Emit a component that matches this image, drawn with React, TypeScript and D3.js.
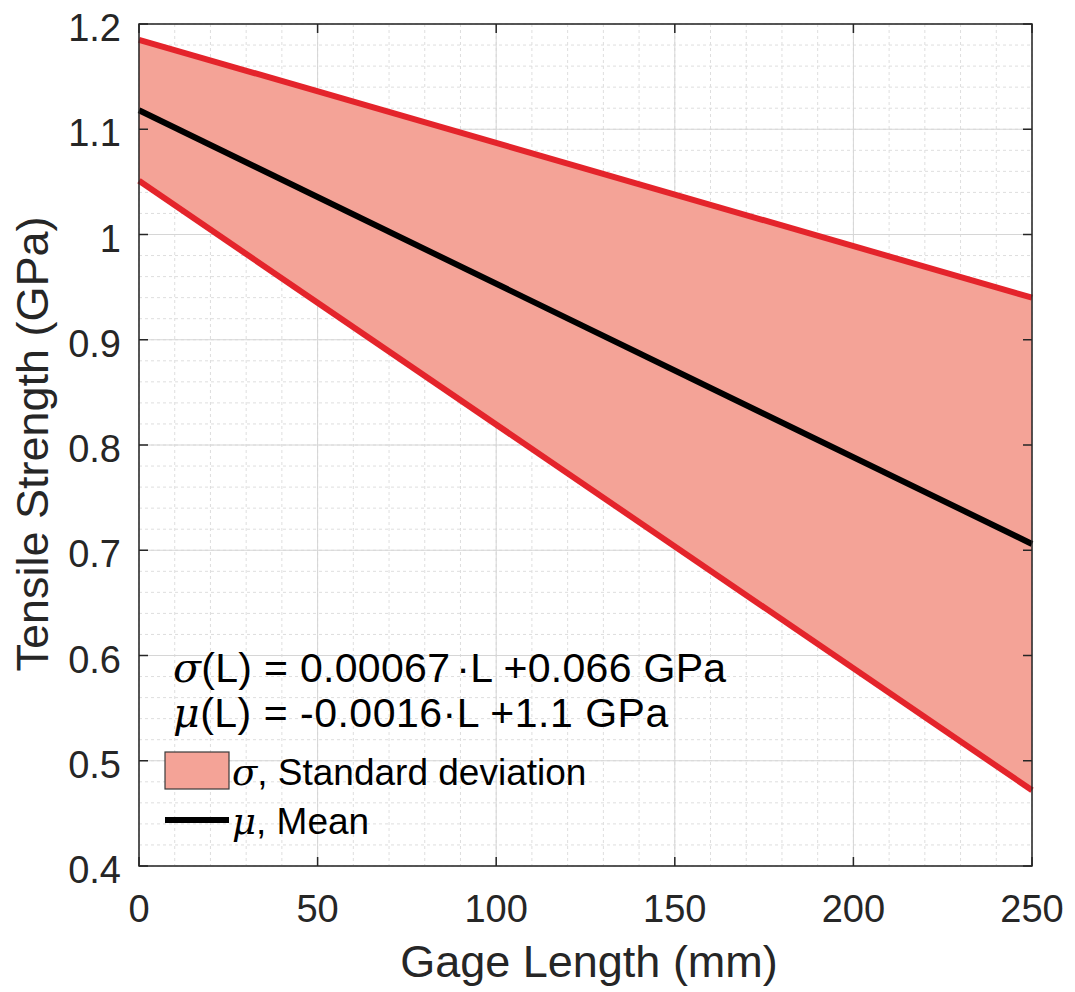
import React from "react";
import * as d3 from "d3";

const gageLength = [0, 250];
const meanStrength = [1.118, 0.706];
const upperStrength = [1.185, 0.94];
const lowerStrength = [1.051, 0.472];
const xTicks = [0, 50, 100, 150, 200, 250];
const yTicks = [0.4, 0.5, 0.6, 0.7, 0.8, 0.9, 1, 1.1, 1.2];
const xMinor = d3.range(0, 251, 10);
const yMinor = d3.range(0.4, 1.2001, 0.02);

const W = 1075;
const H = 992;
const M = { left: 139, right: 1032, top: 24, bottom: 866 };
const FONT = "'Liberation Sans', Arial, Helvetica, sans-serif";
const TXT = "#262626";

export default function App() {
  const x = d3.scaleLinear().domain([0, 250]).range([M.left, M.right]);
  const y = d3.scaleLinear().domain([0.4, 1.2]).range([M.bottom, M.top]);
  const pts = gageLength.map((g, i) => ({
    g,
    m: meanStrength[i],
    u: upperStrength[i],
    l: lowerStrength[i],
  }));
  const area = d3
    .area<any>()
    .x((d) => x(d.g))
    .y0((d) => y(d.l))
    .y1((d) => y(d.u));
  const line = (k: string) =>
    d3
      .line<any>()
      .x((d) => x(d.g))
      .y((d) => y(d[k]))(pts) as string;
  const tl = 9;
  return (
    <svg
      width={W}
      height={H}
      style={{ position: "absolute", left: 0, top: 0, background: "#fff" }}
      fontFamily={FONT}
    >
      <rect x={0} y={0} width={W} height={H} fill="#fff" />
      {/* minor grid */}
      {xMinor.map((v) => (
        <line
          key={"xm" + v}
          x1={x(v)}
          x2={x(v)}
          y1={M.top}
          y2={M.bottom}
          stroke="#dedede"
          strokeWidth={1}
          strokeDasharray="3,3"
        />
      ))}
      {yMinor.map((v, i) => (
        <line
          key={"ym" + i}
          x1={M.left}
          x2={M.right}
          y1={y(v)}
          y2={y(v)}
          stroke="#dedede"
          strokeWidth={1}
          strokeDasharray="3,3"
        />
      ))}
      {/* major grid */}
      {xTicks.map((v) => (
        <line
          key={"xg" + v}
          x1={x(v)}
          x2={x(v)}
          y1={M.top}
          y2={M.bottom}
          stroke="#d6d6d6"
          strokeWidth={1}
        />
      ))}
      {yTicks.map((v) => (
        <line
          key={"yg" + v}
          x1={M.left}
          x2={M.right}
          y1={y(v)}
          y2={y(v)}
          stroke="#d6d6d6"
          strokeWidth={1}
        />
      ))}
      {/* band */}
      <path d={area(pts) as string} fill="#F4A397" stroke="none" />
      <path d={line("u")} fill="none" stroke="#E4242B" strokeWidth={6} />
      <path d={line("l")} fill="none" stroke="#E4242B" strokeWidth={6} />
      <path d={line("m")} fill="none" stroke="#000" strokeWidth={6} />
      {/* axes box */}
      <rect
        x={M.left}
        y={M.top}
        width={M.right - M.left}
        height={M.bottom - M.top}
        fill="none"
        stroke={TXT}
        strokeWidth={1.5}
      />
      {/* ticks */}
      {xTicks.map((v) => (
        <g key={"xt" + v}>
          <line x1={x(v)} x2={x(v)} y1={M.bottom} y2={M.bottom - tl} stroke={TXT} strokeWidth={1.5} />
          <line x1={x(v)} x2={x(v)} y1={M.top} y2={M.top + tl} stroke={TXT} strokeWidth={1.5} />
          <text x={x(v)} y={922} textAnchor="middle" fontSize={38} fill={TXT}>
            {v}
          </text>
        </g>
      ))}
      {yTicks.map((v) => (
        <g key={"yt" + v}>
          <line x1={M.left} x2={M.left + tl} y1={y(v)} y2={y(v)} stroke={TXT} strokeWidth={1.5} />
          <line x1={M.right} x2={M.right - tl} y1={y(v)} y2={y(v)} stroke={TXT} strokeWidth={1.5} />
          <text x={121} y={y(v) + 17} textAnchor="end" fontSize={38} fill={TXT}>
            {d3.format("~g")(v)}
          </text>
        </g>
      ))}
      {/* axis titles */}
      <text x={589} y={977} textAnchor="middle" fontSize={45} fill={TXT}>
        Gage Length (mm)
      </text>
      <text
        transform={`translate(48, 444) rotate(-90)`}
        textAnchor="middle"
        fontSize={45}
        fill={TXT}
      >
        Tensile Strength (GPa)
      </text>
      {/* equations */}
      <text x={173} y={682} fontSize={41} fill="#000" letterSpacing={0.3}>
        <tspan fontStyle="italic" fontFamily="'DejaVu Serif', serif">σ</tspan>
        <tspan>(L) = 0.00067</tspan>
        <tspan dx={6}>·L +0.066 GPa</tspan>
      </text>
      <text x={173} y={727} fontSize={41} fill="#000" letterSpacing={0.5}>
        <tspan fontStyle="italic" fontFamily="'DejaVu Serif', serif">μ</tspan>
        <tspan>(L) = -0.0016·L +1.1 GPa</tspan>
      </text>
      {/* legend */}
      <rect x={165} y={752} width={64} height={37} fill="#F4A397" stroke="#3a3a3a" strokeWidth={1.2} />
      <text x={232} y={785} fontSize={37} fill="#000">
        <tspan fontStyle="italic" fontFamily="'DejaVu Serif', serif">σ</tspan>
        <tspan>, Standard deviation</tspan>
      </text>
      <line x1={165} x2={229} y1={820} y2={820} stroke="#000" strokeWidth={6} />
      <text x={232} y={834} fontSize={37} fill="#000">
        <tspan fontStyle="italic" fontFamily="'DejaVu Serif', serif">μ</tspan>
        <tspan>, Mean</tspan>
      </text>
    </svg>
  );
}
